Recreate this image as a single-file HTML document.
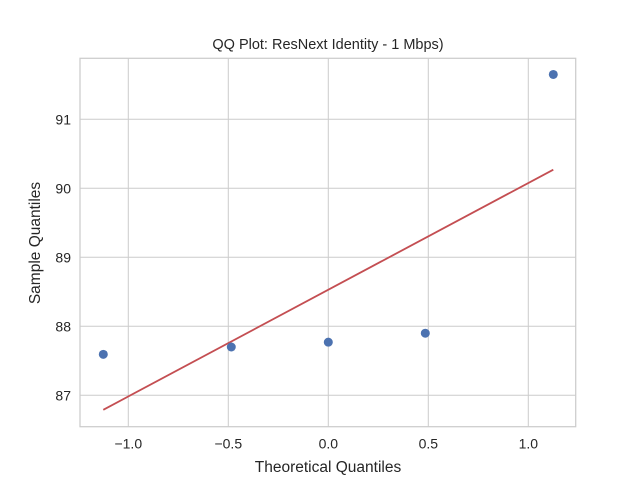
<!DOCTYPE html>
<html><head><meta charset="utf-8"><style>
body{margin:0;background:#fff}
svg{display:block;font-family:"Liberation Sans","DejaVu Sans",sans-serif}
</style></head><body>
<svg id="chart" width="640" height="480" viewBox="0 0 640 480"></svg>
<script>
const xTicks=[-1.0,-0.5,0.0,0.5,1.0];
const xTickLabels=["\u22121.0","\u22120.5","0.0","0.5","1.0"];
const yTicks=[87,88,89,90,91];
const yTickLabels=["87","88","89","90","91"];
const theoretical=[-1.125,-0.485,0.0,0.485,1.125];
const sample=[87.594,87.70,87.77,87.90,91.65];
const fitX=[-1.125,1.125];
const fitY=[86.79,90.27];

const L=80,R=575.7,T=58.3,B=426.7;
const sx=v=>328.3+200*v;
const sy=v=>395.3-69*(v-87);
const svg=document.getElementById('chart');
const NS='http://www.w3.org/2000/svg';
function mk(tag,attrs,parent){const e=document.createElementNS(NS,tag);for(const k in attrs)e.setAttribute(k,attrs[k]);(parent||svg).appendChild(e);return e;}

const grid=mk('g',{});


xTicks.forEach((v,i)=>{
  const l=mk('line',{x1:sx(v),x2:sx(v),y1:T,y2:B,stroke:'#cccccc','stroke-width':1},grid);
  
  
  const t=mk('text',{x:sx(v),y:B+22,'text-anchor':'middle','font-size':14,fill:'#262626'});
  t.textContent=xTickLabels[i];
  
  
});
yTicks.forEach((v,i)=>{
  const l=mk('line',{x1:L,x2:R,y1:sy(v),y2:sy(v),stroke:'#cccccc','stroke-width':1},grid);
  
  
  const t=mk('text',{x:L-9,y:sy(v)+5,'text-anchor':'end','font-size':14,fill:'#262626'});
  t.textContent=yTickLabels[i];
  
  
});
const frame=mk('rect',{x:L,y:T,width:R-L,height:B-T,fill:'none',stroke:'#cccccc','stroke-width':1.25});



const fit=mk('line',{x1:sx(fitX[0]),y1:sy(fitY[0]),x2:sx(fitX[1]),y2:sy(fitY[1]),stroke:'#c44e52','stroke-width':1.8});



theoretical.forEach((v,i)=>{
  const c=mk('circle',{cx:sx(v),cy:sy(sample[i]),r:4.5,fill:'#4c72b0'});
  
  
});

const title=mk('text',{x:328,y:49,'text-anchor':'middle','font-size':14.5,fill:'#262626'});
title.textContent='QQ Plot: ResNext Identity - 1 Mbps)';


const xt=mk('text',{x:328,y:472,'text-anchor':'middle','font-size':15.5,fill:'#262626'});
xt.textContent='Theoretical Quantiles';


const yt=mk('text',{x:40,y:243,'text-anchor':'middle','font-size':15.5,fill:'#262626',transform:'rotate(-90 40 243)'});
yt.textContent='Sample Quantiles';


</script>
</body></html>
